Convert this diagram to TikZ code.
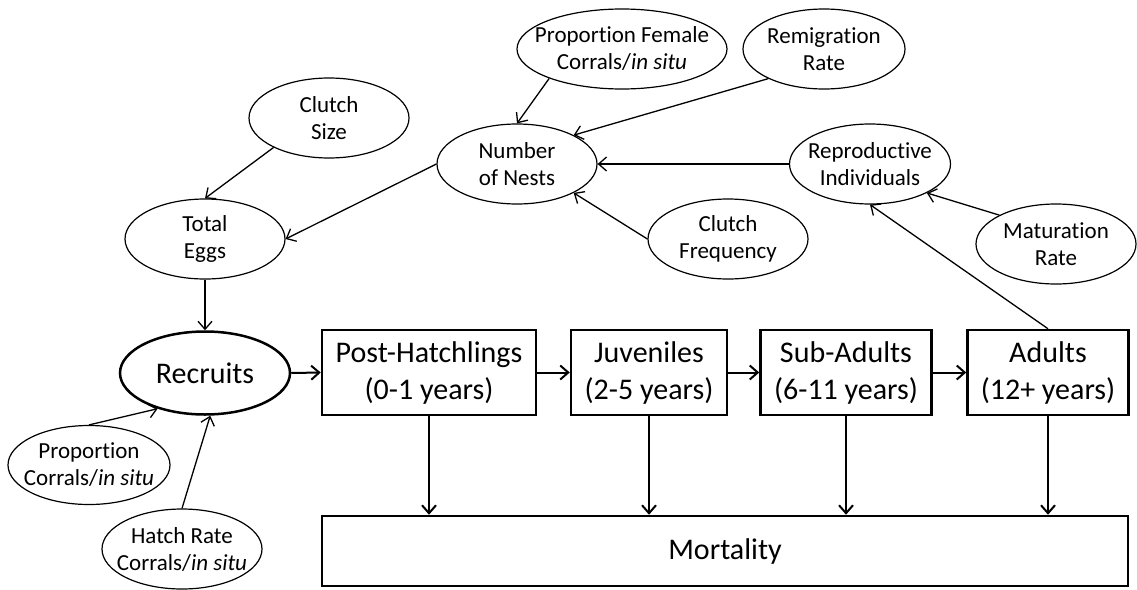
\documentclass[tikz,border=0pt]{standalone}
\usepackage{fontspec}
\setmainfont{Carlito}[Ligatures=NoCommon]
\usetikzlibrary{shapes.geometric,arrows.meta}
\begin{document}
\begin{tikzpicture}[x=1pt,y=-1pt,
 factor/.style={ellipse,draw,line width=1.2pt,minimum width=160,minimum height=80,inner xsep=-40pt,inner ysep=0pt,align=center,font=\fontsize{23}{27}\selectfont},
 stage/.style={rectangle,draw,line width=2.5pt,minimum height=85,inner sep=0pt,align=center,font=\fontsize{30}{37}\selectfont},
 link/.style={line width=1.3pt,-{Straight Barb[length=8pt,width=14pt]}},
 flow/.style={line width=2pt,-{Straight Barb[length=8pt,width=14pt]}}]
 \useasboundingbox (0,0) rectangle (1137,589);
 % inputs
 \node[factor] (cs) at (329,118) {Clutch\\Size};
 \node[factor] (te) at (205,239) {Total\\Eggs};
 \node[factor,minimum width=210] (pf) at (622,49) {Proportion Female\\Corrals/\textit{in situ}};
 \node[factor,minimum width=162] (rr) at (824,49) {Remigration\\Rate};
 \node[factor] (nn) at (517,164) {Number\\of Nests};
 \node[factor] (cf) at (728,239) {Clutch\\Frequency};
 \node[factor,minimum width=161] (ri) at (870,164) {Reproductive\\Individuals};
 \node[factor] (mr) at (1056,244) {Maturation\\Rate};
 \node[factor,minimum width=162,minimum height=79] (pc) at (89,465) {Proportion\\Corrals/\textit{in situ}};
 \node[factor] (hr) at (182,549) {Hatch Rate\\Corrals/\textit{in situ}};
 \node[factor,line width=2.5pt,minimum width=170,minimum height=83,font=\fontsize{30}{37}\selectfont] (rec) at (205,373) {Recruits};
 % stages
 \node[stage,minimum width=214] (ph) at (429,372.5) {Post-Hatchlings\\(0-1 years)};
 \node[stage,minimum width=156] (juv) at (649,372.5) {Juveniles\\(2-5 years)};
 \node[stage,minimum width=171] (sa) at (846,372.5) {Sub-Adults\\(6-11 years)};
 \node[stage,minimum width=161] (ad) at (1048,372.5) {Adults\\(12+ years)};
 \node[stage,minimum width=806,minimum height=70] (mort) at (725,551) {Mortality};
 % links
 \draw[link] (cs.208) -- (te.north);
 \draw[link] (nn.west) -- (te.east);
 \draw[link] (pf.202) -- (nn.north);
 \draw[link] (rr.208) -- (nn.27);
 \draw[link] (ri.west) -- (nn.east);
 \draw[link] (cf.west) -- (nn.333);
 \draw[link] (mr.153) -- (ri.333);
 \draw[link] (ad.north) -- (ri.south);
 \draw[link] (te.south) -- (rec.north);
 \draw[link] (pc.north) -- (rec.217);
 \draw[link] (hr.north) -- (rec.277);
 \draw[flow] (rec.east) -- (ph.west);
 \foreach \a/\b in {ph/juv,juv/sa,sa/ad}
 \draw[flow] (\a.east) -- (\b.west);
 \foreach \b in {ph,juv,sa,ad}
 \draw[flow] (\b.south) -- (\b.south |- mort.north);
\end{tikzpicture}
\end{document}
